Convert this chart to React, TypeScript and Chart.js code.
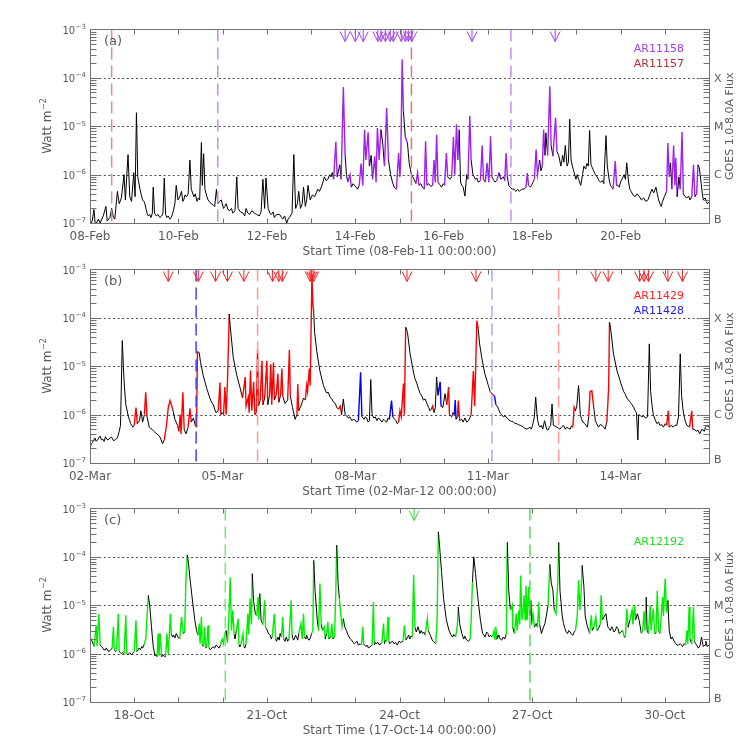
import React, { useEffect, useRef } from 'react';
import { Chart, registerables } from 'chart.js';
Chart.register(...registerables);

// Flux values are in units of 1e-6 W m^-2; third field = active-region flag (0 = none)
const UNIT = 1e-6;

const seriesA: [number, number, number][] = [
[0.00,0.09,0],[0.05,0.11,0],[0.09,0.19,0],[0.12,0.09,0],[0.19,0.12,0],[0.23,0.10,0],[0.30,0.14,0],[0.36,0.22,0],[0.39,0.11,0],[0.45,0.13,0],[0.49,0.2,0],[0.53,0.13,0],[0.56,0.12,0],[0.62,0.45,0],[0.66,0.25,0],[0.71,0.33,0],[0.77,1.0,0],[0.80,0.3,0],[0.86,2.6,0],[0.90,0.35,0],[0.94,0.28,0],[0.99,1.1,0],[1.02,0.35,0],[1.05,19,0],[1.08,0.9,0],[1.13,0.5,0],[1.16,0.38,0],[1.19,0.3,0],[1.22,0.28,0],[1.24,0.25,0],[1.29,0.16,0],[1.32,0.14,0],[1.35,0.15,0],[1.38,0.13,0],[1.41,0.16,0],[1.43,0.55,0],[1.46,0.16,0],[1.50,0.14,0],[1.54,0.15,0],[1.58,0.13,0],[1.62,0.14,0],[1.65,0.16,0],[1.68,0.85,0],[1.71,0.15,0],[1.74,0.13,0],[1.77,0.14,0],[1.81,0.12,0],[1.84,0.13,0],[1.88,0.17,0],[1.92,0.25,0],[1.95,0.6,0],[1.99,0.3,0],[2.03,0.35,0],[2.07,0.45,0],[2.10,0.28,0],[2.12,0.3,0],[2.15,0.38,0],[2.18,0.35,0],[2.22,0.4,0],[2.26,2.0,0],[2.29,0.5,0],[2.35,0.35,0],[2.38,0.4,0],[2.42,0.28,0],[2.45,0.33,0],[2.48,0.3,0],[2.52,4.6,0],[2.54,0.6,0],[2.57,2.7,0],[2.60,0.5,0],[2.64,0.36,0],[2.67,0.3,0],[2.71,0.27,0],[2.74,0.25,0],[2.78,0.24,0],[2.82,0.22,0],[2.86,0.5,0],[2.89,0.25,0],[2.93,0.28,0],[2.97,0.3,0],[3.02,0.2,0],[3.05,0.22,0],[3.08,0.25,0],[3.12,0.19,0],[3.16,0.18,0],[3.20,0.2,0],[3.23,0.16,0],[3.28,0.18,0],[3.32,0.9,0],[3.35,0.2,0],[3.40,0.17,0],[3.46,0.16,0],[3.50,0.14,0],[3.53,0.2,0],[3.57,0.16,0],[3.61,0.15,0],[3.66,0.18,0],[3.72,0.16,0],[3.77,0.15,0],[3.83,0.14,0],[3.87,0.17,0],[3.91,0.8,0],[3.95,0.2,0],[3.98,0.85,0],[4.03,0.2,0],[4.07,0.16,0],[4.10,0.15,0],[4.14,0.17,0],[4.17,0.13,0],[4.22,0.15,0],[4.29,0.15,0],[4.33,0.13,0],[4.36,0.12,0],[4.40,0.14,0],[4.45,0.1,0],[4.48,0.12,0],[4.51,0.13,0],[4.57,0.16,0],[4.61,2.6,0],[4.65,0.2,0],[4.69,0.25,0],[4.72,0.45,0],[4.76,0.2,0],[4.80,0.25,0],[4.83,0.55,0],[4.87,0.22,0],[4.90,0.3,0],[4.93,0.6,0],[4.98,0.3,0],[5.03,0.38,0],[5.08,0.35,0],[5.12,0.42,0],[5.15,0.5,0],[5.19,0.45,0],[5.23,0.55,0],[5.27,0.7,0],[5.30,0.9,0],[5.34,0.75,0],[5.38,0.8,0],[5.42,1.0,0],[5.45,0.9,0],[5.48,1.1,0],[5.51,0.8,0],[5.56,4.8,1],[5.59,0.9,1],[5.65,1.6,0],[5.68,0.8,0],[5.73,65,1],[5.77,2.5,1],[5.80,1.0,0],[5.83,0.7,0],[5.88,1.0,1],[5.91,0.55,1],[5.95,0.65,0],[5.98,0.6,0],[6.02,0.55,0],[6.05,0.5,0],[6.09,0.6,0],[6.13,1.7,1],[6.17,0.6,1],[6.21,8.5,1],[6.24,2.0,1],[6.29,7.5,1],[6.32,1.5,1],[6.36,2.5,0],[6.39,0.8,0],[6.44,2.4,1],[6.47,0.7,1],[6.50,9.2,1],[6.54,2.0,1],[6.58,8.5,1],[6.62,4.5,0],[6.66,1.5,0],[6.71,24,1],[6.75,2.0,1],[6.80,1.0,0],[6.84,0.7,0],[6.88,0.55,0],[6.93,0.5,0],[6.98,2.8,1],[7.01,0.9,1],[7.03,2.4,1],[7.06,240,1],[7.09,20,1],[7.13,6,0],[7.18,4.5,1],[7.22,1.7,0],[7.27,1.0,0],[7.30,0.9,0],[7.33,0.8,0],[7.37,0.65,0],[7.41,1.1,1],[7.44,0.6,1],[7.48,0.65,0],[7.52,0.55,0],[7.56,0.5,0],[7.59,4.9,1],[7.62,0.6,1],[7.66,0.65,0],[7.71,0.57,0],[7.75,0.6,0],[7.78,2.0,1],[7.81,0.7,1],[7.84,6.7,1],[7.87,0.7,1],[7.91,0.62,0],[7.95,0.55,0],[7.99,0.65,0],[8.02,0.6,0],[8.06,2.8,1],[8.09,0.9,1],[8.14,0.8,0],[8.18,0.9,0],[8.22,6,1],[8.25,1.0,1],[8.29,11,1],[8.32,2,1],[8.35,8.5,1],[8.38,0.7,0],[8.41,0.6,0],[8.44,0.55,0],[8.48,0.36,0],[8.52,1.0,0],[8.55,0.8,0],[8.59,16.5,1],[8.62,2,1],[8.66,1.0,0],[8.69,0.9,0],[8.72,0.8,0],[8.75,0.85,0],[8.78,0.7,0],[8.83,0.75,0],[8.87,4.0,1],[8.90,0.8,1],[8.94,0.7,0],[8.98,1.75,1],[9.02,0.7,1],[9.06,6.2,1],[9.09,0.9,1],[9.12,0.8,0],[9.16,0.7,0],[9.20,0.75,0],[9.25,1.1,1],[9.29,0.8,0],[9.35,0.9,0],[9.38,0.75,0],[9.41,2.8,1],[9.44,0.9,1],[9.47,0.6,0],[9.50,0.55,0],[9.55,0.5,0],[9.59,0.5,0],[9.63,0.45,0],[9.67,0.5,0],[9.71,0.45,0],[9.76,0.5,0],[9.82,0.5,0],[9.86,0.55,0],[9.89,1.08,1],[9.92,0.6,1],[9.96,0.55,0],[9.99,0.6,0],[10.02,0.7,0],[10.05,0.8,0],[10.09,3.3,1],[10.12,1.0,1],[10.17,2.0,1],[10.20,1.2,0],[10.23,1.5,0],[10.26,8.5,1],[10.29,2.5,1],[10.31,7.3,0],[10.35,2.5,0],[10.40,67,1],[10.43,4,1],[10.47,2.4,0],[10.53,15,1],[10.56,3,1],[10.60,2.5,0],[10.65,1.5,0],[10.69,2.5,0],[10.72,1.8,0],[10.75,4.0,0],[10.79,1.5,0],[10.82,1.8,0],[10.85,14,0],[10.88,2.0,0],[10.91,1.5,0],[10.94,1.2,0],[10.99,0.8,0],[11.02,1.0,0],[11.05,0.8,0],[11.10,0.6,0],[11.14,1.0,0],[11.17,1.5,0],[11.21,1.3,0],[11.24,1.7,0],[11.27,1.5,0],[11.30,8.2,0],[11.33,1.6,0],[11.36,1.4,0],[11.39,1.2,0],[11.43,1.0,0],[11.47,0.9,0],[11.51,0.75,0],[11.55,0.7,0],[11.59,0.75,0],[11.62,0.65,0],[11.67,6.4,0],[11.70,1.5,0],[11.74,0.8,0],[11.77,0.6,0],[11.80,0.55,0],[11.83,0.5,0],[11.88,1.9,1],[11.91,0.6,1],[11.94,0.6,0],[11.97,0.55,0],[12.00,0.7,0],[12.03,0.8,0],[12.08,1.0,0],[12.11,0.8,0],[12.14,1.75,0],[12.18,0.7,0],[12.21,0.5,0],[12.24,0.45,0],[12.28,0.38,0],[12.33,0.35,0],[12.37,0.4,0],[12.42,0.36,0],[12.47,0.3,0],[12.52,0.33,0],[12.57,0.28,0],[12.62,0.3,0],[12.66,0.38,0],[12.71,0.5,0],[12.75,0.42,0],[12.80,0.55,0],[12.83,0.4,0],[12.86,0.3,0],[12.89,0.25,0],[12.92,0.22,0],[12.95,0.28,0],[12.99,0.35,0],[13.04,0.45,0],[13.07,4.5,1],[13.10,0.9,1],[13.13,1.75,1],[13.16,0.5,0],[13.20,4.0,1],[13.23,0.6,1],[13.25,2.2,1],[13.28,0.35,1],[13.32,0.9,0],[13.35,0.5,0],[13.39,7.6,1],[13.42,0.4,1],[13.46,0.35,0],[13.50,0.33,0],[13.54,0.36,0],[13.57,0.3,0],[13.61,0.35,0],[13.65,1.6,1],[13.68,0.35,1],[13.72,0.4,0],[13.75,1.6,1],[13.78,1.4,0],[13.82,0.7,0],[13.85,0.4,0],[13.87,0.3,0],[13.91,0.33,0],[13.94,0.28,0],[13.96,0.25,0],[14.0,0.27,0]
];

const seriesB: [number, number, number][] = [
[0.00,0.21,0],[0.03,0.25,0],[0.06,0.27,0],[0.09,0.3,0],[0.11,0.33,0],[0.14,0.28,0],[0.17,0.3,0],[0.20,0.33,0],[0.23,0.36,0],[0.26,0.3,0],[0.29,0.31,0],[0.32,0.28,0],[0.35,0.35,0],[0.38,0.31,0],[0.41,0.3,0],[0.45,0.33,0],[0.49,0.34,0],[0.53,0.29,0],[0.57,0.3,0],[0.62,0.33,0],[0.66,0.45,0],[0.69,0.6,0],[0.73,34,0],[0.77,5.0,0],[0.81,1.6,0],[0.87,0.9,0],[0.92,0.65,0],[0.97,0.55,0],[1.00,0.6,0],[1.04,1.4,1],[1.07,0.65,1],[1.12,0.75,0],[1.15,1.2,0],[1.19,0.7,0],[1.23,1.0,0],[1.26,2.9,1],[1.29,0.9,1],[1.34,0.55,0],[1.37,0.52,0],[1.40,0.5,0],[1.45,0.45,0],[1.48,0.42,0],[1.51,0.4,0],[1.54,0.38,0],[1.57,0.36,0],[1.61,0.3,0],[1.64,0.25,0],[1.68,0.3,0],[1.73,0.6,1],[1.77,1.4,1],[1.81,1.95,1],[1.87,1.3,1],[1.92,0.8,0],[1.98,0.6,0],[2.01,0.45,0],[2.04,1.0,1],[2.06,0.4,1],[2.10,2.9,1],[2.13,0.5,1],[2.17,0.4,0],[2.22,0.55,0],[2.26,1.35,1],[2.29,0.7,1],[2.34,0.85,0],[2.38,0.6,0],[2.41,0.55,0],[2.43,20,1],[2.47,19,1],[2.50,12,0],[2.56,6.5,0],[2.64,3.5,0],[2.71,2.2,0],[2.75,1.8,0],[2.79,1.6,0],[2.82,1.3,0],[2.85,1.1,0],[2.90,1.2,0],[2.94,4.6,1],[2.96,1.0,1],[2.99,1.1,0],[3.02,1.0,0],[3.05,3.7,1],[3.08,1.0,1],[3.11,5,1],[3.15,120,1],[3.17,70,0],[3.24,15,0],[3.32,6.5,0],[3.39,3.7,0],[3.45,2.2,0],[3.51,6,1],[3.53,1.5,1],[3.58,2.3,1],[3.60,1.1,1],[3.63,8.2,1],[3.66,1.2,1],[3.70,4.7,1],[3.73,1.0,1],[3.76,1.1,0],[3.79,22,1],[3.81,1.5,1],[3.85,2.0,0],[3.89,13,1],[3.91,1.6,1],[3.95,2.2,0],[4.00,13,1],[4.02,1.6,1],[4.06,2.5,0],[4.09,11,1],[4.11,1.6,1],[4.15,12,1],[4.17,2.0,1],[4.21,2.5,0],[4.25,7,1],[4.27,1.8,1],[4.31,2.5,0],[4.34,9,1],[4.36,2.4,1],[4.41,1.7,0],[4.47,2.0,0],[4.51,22,1],[4.53,2.5,1],[4.58,1.4,0],[4.64,0.8,0],[4.68,1.0,0],[4.70,4.3,1],[4.72,1.2,1],[4.77,1.5,0],[4.83,2.2,0],[4.87,2.0,0],[4.90,4.0,1],[4.92,3.0,1],[4.96,9,1],[4.98,4,1],[5.02,810,1],[5.04,200,1],[5.06,130,1],[5.08,50,0],[5.13,20,0],[5.20,8,0],[5.28,4,0],[5.35,2.8,0],[5.39,2.9,0],[5.43,2.3,0],[5.47,2.1,0],[5.51,1.8,0],[5.55,1.7,0],[5.58,1.4,0],[5.62,1.3,0],[5.66,1.5,1],[5.69,1.0,1],[5.73,2.1,0],[5.77,1.0,0],[5.80,0.95,0],[5.84,0.85,0],[5.88,0.9,0],[5.92,0.75,0],[5.96,0.8,0],[5.99,0.78,0],[6.03,0.7,0],[6.07,0.75,0],[6.12,7.5,2],[6.15,0.9,2],[6.20,0.8,0],[6.23,0.9,0],[6.26,0.85,0],[6.29,0.7,0],[6.32,0.75,0],[6.35,5.3,0],[6.38,1.0,0],[6.42,0.85,0],[6.45,0.9,0],[6.49,0.75,0],[6.52,0.85,0],[6.56,0.8,0],[6.60,0.7,0],[6.64,0.8,0],[6.67,0.75,0],[6.71,0.7,0],[6.74,0.85,0],[6.77,0.8,0],[6.82,1.95,2],[6.85,0.9,2],[6.89,0.8,0],[6.92,0.75,0],[6.95,0.65,0],[6.98,0.7,0],[7.01,1.2,1],[7.04,0.9,1],[7.09,4.4,1],[7.11,1.0,1],[7.14,64,1],[7.18,50,0],[7.24,18,0],[7.31,8,0],[7.35,5.5,0],[7.39,4.5,0],[7.43,3.4,0],[7.47,2.7,0],[7.51,2.4,0],[7.54,2.0,0],[7.58,2.1,0],[7.62,1.7,0],[7.66,1.4,0],[7.69,1.2,0],[7.72,1.3,0],[7.75,1.5,1],[7.78,1.1,1],[7.81,1.4,0],[7.84,6,0],[7.87,2.5,0],[7.92,4.8,2],[7.94,1.5,2],[7.98,1.4,0],[8.03,2.7,0],[8.07,1.6,0],[8.11,3.7,1],[8.13,1.0,1],[8.18,0.9,0],[8.21,1.1,0],[8.24,1.0,0],[8.26,2.0,2],[8.28,0.8,2],[8.31,0.9,0],[8.33,1.95,1],[8.36,0.75,1],[8.41,0.8,0],[8.44,0.7,0],[8.48,0.85,0],[8.52,0.7,0],[8.56,0.75,0],[8.59,0.85,0],[8.62,1.0,0],[8.67,8,1],[8.70,1.5,1],[8.75,88,1],[8.78,60,1],[8.81,30,0],[8.86,15,0],[8.93,7,0],[9.01,4,0],[9.05,3.0,0],[9.09,2.7,0],[9.15,2.4,1],[9.18,1.6,2],[9.21,1.5,0],[9.24,1.3,0],[9.27,1.1,0],[9.31,1.0,0],[9.35,0.9,0],[9.39,0.95,0],[9.43,0.85,0],[9.47,0.78,0],[9.50,0.75,0],[9.54,0.72,0],[9.58,0.7,0],[9.61,0.66,0],[9.65,0.65,0],[9.69,0.62,0],[9.73,0.6,0],[9.77,0.58,0],[9.80,0.55,0],[9.84,0.52,0],[9.88,0.5,0],[9.91,0.52,0],[9.95,0.55,0],[9.98,0.5,0],[10.01,0.6,0],[10.05,0.9,0],[10.08,2.3,0],[10.12,0.8,0],[10.15,0.6,0],[10.18,0.55,0],[10.21,0.6,0],[10.24,0.5,0],[10.28,0.75,0],[10.33,0.5,0],[10.36,0.48,0],[10.39,0.55,0],[10.42,0.6,0],[10.45,1.66,0],[10.48,0.6,0],[10.52,0.58,0],[10.56,0.55,0],[10.60,0.52,0],[10.63,0.5,0],[10.67,0.56,0],[10.71,0.6,0],[10.75,0.5,0],[10.78,0.55,0],[10.82,0.52,0],[10.86,0.5,0],[10.89,0.58,0],[10.92,0.55,0],[10.95,1.42,1],[10.98,1.2,1],[11.01,1.5,0],[11.05,4.0,0],[11.09,1.0,0],[11.12,0.8,0],[11.15,0.7,0],[11.19,0.65,0],[11.22,0.6,0],[11.25,0.55,0],[11.28,0.9,0],[11.31,3.0,1],[11.35,3.1,1],[11.39,1.5,1],[11.43,0.75,0],[11.46,0.65,0],[11.50,0.55,0],[11.54,0.62,0],[11.58,0.6,0],[11.62,0.55,0],[11.65,0.5,0],[11.69,0.7,0],[11.73,3.5,1],[11.75,81,1],[11.78,55,0],[11.84,18,0],[11.92,8,0],[11.99,5,0],[12.03,3.8,0],[12.07,3.0,0],[12.11,2.6,0],[12.14,2.2,0],[12.18,2.0,0],[12.22,1.8,0],[12.26,1.6,0],[12.30,1.4,0],[12.33,1.2,0],[12.36,1.1,0],[12.39,0.3,0],[12.41,1.0,0],[12.45,0.95,0],[12.48,0.9,0],[12.52,0.95,0],[12.56,0.85,0],[12.61,0.9,0],[12.65,29,0],[12.68,3,0],[12.71,1.6,0],[12.74,1.0,0],[12.78,0.8,0],[12.82,0.65,0],[12.86,0.7,0],[12.89,0.6,0],[12.93,0.62,0],[12.97,0.55,0],[13.01,0.65,0],[13.04,0.6,0],[13.08,1.2,1],[13.10,0.55,1],[13.14,0.6,0],[13.19,0.55,0],[13.23,0.6,0],[13.27,0.6,0],[13.31,0.9,0],[13.35,18,0],[13.38,2.5,0],[13.41,1.3,0],[13.44,0.9,0],[13.47,0.7,0],[13.50,0.6,0],[13.53,0.58,0],[13.56,0.55,0],[13.61,1.2,1],[13.63,0.5,1],[13.67,0.5,0],[13.71,0.45,0],[13.75,0.48,0],[13.79,0.4,0],[13.84,0.5,0],[13.89,0.45,0],[13.92,0.55,0],[13.95,0.6,0],[14.0,0.55,0]
];

const seriesC: [number, number, number][] = [
[0.00,2.2,0],[0.05,1.8,0],[0.09,1.4,0],[0.14,3.85,1],[0.16,1.4,1],[0.20,6.7,1],[0.23,1.5,1],[0.26,1.4,0],[0.29,1.3,0],[0.31,1.2,0],[0.34,1.2,0],[0.36,1.3,0],[0.39,1.25,0],[0.42,1.1,0],[0.45,1.15,0],[0.50,1.3,0],[0.53,3.6,1],[0.55,1.2,1],[0.58,1.1,0],[0.60,1.15,0],[0.64,6.7,1],[0.66,1.1,1],[0.69,1.05,0],[0.71,1.0,0],[0.74,1.05,0],[0.77,0.95,0],[0.81,6.2,1],[0.83,1.0,1],[0.86,0.95,0],[0.90,1.05,0],[0.93,0.95,0],[0.96,1.0,0],[1.00,1.1,0],[1.04,4.9,1],[1.06,1.1,1],[1.09,1.2,0],[1.11,1.3,0],[1.14,1.2,0],[1.17,1.4,0],[1.19,1.3,0],[1.22,1.5,0],[1.26,2.0,1],[1.32,16,1],[1.35,10,0],[1.39,3.6,0],[1.43,1.4,0],[1.47,0.9,0],[1.49,0.95,0],[1.52,0.85,0],[1.54,2.6,1],[1.56,0.9,1],[1.59,2.6,1],[1.62,0.85,1],[1.64,0.95,0],[1.67,0.9,0],[1.71,0.85,0],[1.74,2.6,1],[1.77,1.0,1],[1.82,6.7,1],[1.84,2.5,1],[1.87,2.2,0],[1.89,2.4,0],[1.92,2.1,0],[1.95,2.6,0],[1.99,2.2,0],[2.03,2.0,0],[2.07,5.7,1],[2.11,2.6,1],[2.14,2.8,0],[2.17,33,1],[2.20,110,1],[2.23,70,0],[2.27,30,0],[2.33,10,0],[2.37,5,0],[2.41,3.0,0],[2.44,2.4,0],[2.47,4.2,1],[2.49,1.6,1],[2.52,5.7,1],[2.54,1.5,1],[2.57,1.4,0],[2.59,3.6,1],[2.62,1.3,1],[2.64,1.4,0],[2.67,3.85,1],[2.69,1.3,1],[2.72,1.2,0],[2.74,1.25,0],[2.78,1.4,0],[2.82,1.3,0],[2.85,1.5,0],[2.89,1.4,0],[2.92,1.3,0],[2.95,1.5,0],[2.99,2.0,1],[3.02,1.6,1],[3.05,2.6,1],[3.08,3.0,1],[3.11,1.7,0],[3.14,5.3,1],[3.17,38,1],[3.20,3,1],[3.23,7.9,1],[3.26,2.5,1],[3.28,2.0,0],[3.31,3.0,0],[3.35,5.3,1],[3.37,1.5,1],[3.39,1.4,0],[3.41,1.5,0],[3.46,2.6,1],[3.48,1.4,1],[3.50,1.3,0],[3.53,1.6,0],[3.57,6.7,1],[3.59,2.5,1],[3.62,13.7,1],[3.65,4,1],[3.67,45,1],[3.70,12,0],[3.74,6.7,0],[3.77,6,0],[3.80,14.8,1],[3.82,5,1],[3.84,17.4,1],[3.87,4.9,0],[3.91,4,0],[3.95,12.6,1],[3.97,3.5,1],[4.00,3.2,0],[4.02,2.8,0],[4.05,2.5,0],[4.08,2.4,0],[4.10,2.0,0],[4.12,2.2,0],[4.17,6.7,1],[4.20,2.0,1],[4.22,1.8,0],[4.25,2.2,0],[4.28,1.9,0],[4.30,2.6,0],[4.33,2.2,0],[4.36,5.7,1],[4.38,2.0,1],[4.41,1.8,0],[4.44,2.2,0],[4.47,1.8,0],[4.50,2.0,0],[4.55,12.6,1],[4.57,2.5,1],[4.60,1.9,0],[4.62,2.0,0],[4.65,2.4,0],[4.67,2.2,0],[4.70,1.9,0],[4.72,2.6,0],[4.77,4.2,1],[4.80,2.0,1],[4.83,6.7,1],[4.85,2.2,1],[4.88,2.0,0],[4.90,2.4,0],[4.93,2.0,0],[4.96,1.9,0],[4.99,2.2,0],[5.01,2.6,0],[5.04,3,1],[5.06,85,1],[5.09,20,0],[5.14,5,0],[5.17,3.0,0],[5.20,28,1],[5.23,4,1],[5.26,3.0,0],[5.30,3.6,1],[5.32,2.0,1],[5.35,2.6,0],[5.38,4.5,1],[5.40,2.0,1],[5.44,2.2,0],[5.47,4.2,1],[5.49,2.0,1],[5.53,2.2,0],[5.56,20,1],[5.58,175,1],[5.61,30,0],[5.64,13.7,0],[5.68,5.5,1],[5.70,3.6,1],[5.73,5.3,1],[5.76,3.6,0],[5.80,3.0,0],[5.83,2.5,0],[5.86,2.2,0],[5.89,2.0,0],[5.92,1.9,0],[5.95,1.7,0],[5.98,1.6,0],[6.01,1.7,0],[6.04,1.8,0],[6.07,1.5,0],[6.11,1.6,0],[6.14,1.5,0],[6.17,3.6,1],[6.19,1.6,1],[6.21,1.5,0],[6.24,1.4,0],[6.27,1.5,0],[6.30,1.3,0],[6.33,1.4,0],[6.35,1.4,0],[6.38,1.5,0],[6.41,11.7,1],[6.43,1.5,1],[6.45,1.7,0],[6.47,1.6,0],[6.51,1.7,0],[6.55,1.5,0],[6.60,1.7,0],[6.64,4.2,1],[6.66,1.6,1],[6.68,1.9,0],[6.71,1.8,0],[6.74,5.7,1],[6.76,1.8,1],[6.78,1.6,0],[6.80,1.7,0],[6.84,1.8,0],[6.88,1.6,0],[6.91,1.7,0],[6.95,1.5,0],[6.99,1.8,0],[7.03,1.7,0],[7.08,1.8,0],[7.11,3.85,1],[7.14,1.9,1],[7.16,2.0,0],[7.18,2.2,0],[7.21,2.4,0],[7.23,2.0,0],[7.26,2.3,0],[7.29,2.2,0],[7.32,42,1],[7.35,3.5,1],[7.38,2.8,0],[7.42,3.6,0],[7.46,2.6,0],[7.49,3.0,0],[7.52,2.6,0],[7.55,2.8,0],[7.58,2.4,0],[7.63,5.3,1],[7.65,3.0,1],[7.68,2.6,0],[7.70,2.4,0],[7.73,2.0,0],[7.76,1.8,0],[7.79,1.7,0],[7.82,1.6,0],[7.85,5,1],[7.88,330,1],[7.91,150,0],[7.95,50,0],[8.00,13,0],[8.06,5,0],[8.12,3.0,0],[8.16,2.5,0],[8.20,2.2,0],[8.23,2.5,0],[8.27,2.2,0],[8.31,4,1],[8.33,9.2,1],[8.36,4.2,0],[8.41,2.6,0],[8.45,2.0,0],[8.48,2.3,0],[8.50,2.0,0],[8.53,1.9,0],[8.56,1.8,0],[8.60,2.0,0],[8.62,4.9,1],[8.65,30,1],[8.68,100,0],[8.72,45,0],[8.77,15,0],[8.83,4.9,0],[8.88,2.6,0],[8.91,2.4,0],[8.94,2.2,0],[8.97,2.8,0],[9.00,2.6,0],[9.03,2.2,0],[9.06,2.4,0],[9.10,2.2,0],[9.14,3.0,1],[9.16,2.0,1],[9.18,3.6,1],[9.20,2.0,1],[9.23,2.4,0],[9.25,2.2,0],[9.28,2.0,0],[9.31,1.9,0],[9.35,2.2,0],[9.38,2.0,0],[9.41,2.5,0],[9.42,20,1],[9.44,200,1],[9.47,20,0],[9.51,8,0],[9.55,10,1],[9.56,3.5,1],[9.60,2.6,0],[9.64,6.7,1],[9.66,3,1],[9.70,7.9,1],[9.72,4,1],[9.74,41,1],[9.77,5,1],[9.80,8,1],[9.82,16,1],[9.84,5,1],[9.86,25,1],[9.89,5,1],[9.92,24,1],[9.95,6,1],[9.97,12.6,1],[9.99,4,0],[10.02,6.7,1],[10.05,3.5,1],[10.09,4.2,0],[10.12,3.5,0],[10.15,11.7,1],[10.17,4,1],[10.21,2.6,0],[10.26,3.6,0],[10.29,4.2,0],[10.32,6,0],[10.36,10,0],[10.40,70,1],[10.43,30,0],[10.47,20,0],[10.50,8,0],[10.54,6.7,1],[10.58,30,1],[10.60,200,1],[10.63,20,0],[10.68,6,0],[10.71,4.2,0],[10.74,3.3,0],[10.77,2.8,0],[10.80,2.6,0],[10.83,3.0,0],[10.86,2.8,0],[10.89,2.5,0],[10.92,2.4,0],[10.95,2.8,0],[10.98,3.0,0],[11.02,6,1],[11.05,33,1],[11.08,8,1],[11.11,20,1],[11.13,67,1],[11.17,25,0],[11.20,6,0],[11.25,3.6,0],[11.28,3.0,0],[11.30,2.6,0],[11.34,6.2,1],[11.36,3.0,1],[11.40,3.6,0],[11.44,5.7,1],[11.47,3.0,1],[11.50,3.3,0],[11.54,4,0],[11.56,16,1],[11.59,5,1],[11.62,5.7,0],[11.67,6.7,0],[11.71,3.6,0],[11.74,3.3,0],[11.77,3.0,0],[11.80,3.6,0],[11.82,3.3,0],[11.85,2.8,0],[11.88,3.0,0],[11.91,3.6,0],[11.94,3.3,0],[11.97,2.6,0],[12.00,2.8,0],[12.05,3.0,0],[12.08,2.2,1],[12.11,2.2,0],[12.14,8.5,1],[12.17,3.5,1],[12.21,4.9,0],[12.26,7.9,1],[12.28,4,1],[12.32,10,1],[12.34,5,1],[12.38,6.7,0],[12.42,4.9,0],[12.47,2.6,0],[12.50,3,1],[12.53,7.4,1],[12.55,3,1],[12.58,14.8,1],[12.60,3,0],[12.63,2.6,0],[12.67,10,1],[12.69,3,1],[12.74,8.5,1],[12.77,2.6,1],[12.80,2.6,0],[12.83,20,1],[12.86,3,1],[12.89,2.6,0],[12.95,14.8,1],[12.97,6,1],[13.01,35.5,1],[13.04,7,1],[13.07,12.6,1],[13.10,3,0],[13.14,2.0,0],[13.17,2.2,0],[13.20,1.9,0],[13.23,1.7,0],[13.25,1.6,0],[13.28,1.5,0],[13.31,1.5,0],[13.35,1.6,0],[13.38,1.5,0],[13.40,1.4,0],[13.44,1.6,0],[13.47,1.5,0],[13.50,3.0,1],[13.52,1.6,1],[13.55,9.2,1],[13.57,2,1],[13.61,1.6,0],[13.65,9.2,1],[13.67,1.8,1],[13.70,1.6,0],[13.72,1.5,0],[13.76,1.3,0],[13.80,1.5,0],[13.83,2.2,0],[13.87,1.4,0],[13.91,1.5,0],[13.93,1.8,0],[13.96,1.4,0],[14.0,1.5,0]
];

// flare arrows (days from start)
const arrowsA = [5.77, 6.0, 6.18, 6.51, 6.58, 6.68, 6.79, 6.86, 7.04, 7.13, 7.20, 7.28, 8.64, 10.52];
const arrowsB = [1.77, 2.45, 2.84, 3.11, 3.48, 4.13, 4.27, 4.35, 4.98, 5.02, 5.06, 7.17, 8.73, 11.44, 11.72, 12.43, 12.53, 12.63, 13.07, 13.4];
const arrowsC = [7.33];

// vertical dashed markers (days from start)
const dashA = [0.49, 2.89, 7.27, 9.52];
const dashB = [2.40, 3.79, 9.09, 10.6];
const dashC = [3.06, 9.95];

const tickDaysA = [0, 2, 4, 6, 8, 10, 12];
const tickLabelsA = ['08-Feb', '10-Feb', '12-Feb', '14-Feb', '16-Feb', '18-Feb', '20-Feb'];
const tickDaysB = [0, 3, 6, 9, 12];
const tickLabelsB = ['02-Mar', '05-Mar', '08-Mar', '11-Mar', '14-Mar'];
const tickDaysC = [1, 4, 7, 10, 13];
const tickLabelsC = ['18-Oct', '21-Oct', '24-Oct', '27-Oct', '30-Oct'];

const yExps = [-7, -6, -5, -4, -3];
const goesClasses = ['B', 'C', 'M', 'X'];
const gridDecades = [1e-6, 1e-5, 1e-4];

const FONT = '"DejaVu Sans", sans-serif';
const TEXT = '#5a5a5a';
const FRAME = '#707070';

type Panel = {
  label: string;
  series: [number, number, number][];
  colors: string[];
  arrows: number[];
  arrowColor: string;
  dash: number[];
  dashColors: string[];
  tickDays: number[];
  tickLabels: string[];
  title: string;
  legend: string[];
  legendColors: string[];
  legendTop: number;
  top: number;
};

const PANELS: Panel[] = [
  {
    label: '(a)', series: seriesA, colors: ['#000000', '#a020f0'],
    arrows: arrowsA, arrowColor: '#a040f0',
    dash: dashA, dashColors: ['#e08a8a', '#c88af5', '#d87878', '#c88af5'],
    tickDays: tickDaysA, tickLabels: tickLabelsA,
    title: 'Start Time (08-Feb-11 00:00:00)',
    legend: ['AR11158', 'AR11157'], legendColors: ['#a040f0', '#b83030'], legendTop: 19.5,
    top: 0,
  },
  {
    label: '(b)', series: seriesB, colors: ['#000000', '#ff0000', '#0000ff'],
    arrows: arrowsB, arrowColor: '#ff2020',
    dash: dashB, dashColors: ['#4040ff', '#ff9a9a', '#a8a8ff', '#ff9a9a'],
    tickDays: tickDaysB, tickLabels: tickLabelsB,
    title: 'Start Time (02-Mar-12 00:00:00)',
    legend: ['AR11429', 'AR11428'], legendColors: ['#ff2020', '#2020ff'], legendTop: 26.5,
    top: 240,
  },
  {
    label: '(c)', series: seriesC, colors: ['#000000', '#00ee00'],
    arrows: arrowsC, arrowColor: '#30e030',
    dash: dashC, dashColors: ['#70ee70', '#50e050'],
    tickDays: tickDaysC, tickLabels: tickLabelsC,
    title: 'Start Time (17-Oct-14 00:00:00)',
    legend: ['AR12192'], legendColors: ['#20e020'], legendTop: 33.5,
    top: 479,
  },
];

const W = 747;
const H = 262;

function makeDecor(p: Panel) {
  return {
    id: 'decor',
    beforeDatasetsDraw(chart: any) {
      const { ctx, chartArea: a } = chart;
      const ys = chart.scales.y;
      ctx.save();
      ctx.strokeStyle = '#4a4a4a';
      ctx.lineWidth = 1;
      ctx.setLineDash([2, 2.6]);
      for (const v of gridDecades) {
        const py = Math.round(ys.getPixelForValue(v)) + 0.5;
        ctx.beginPath();
        ctx.moveTo(a.left, py);
        ctx.lineTo(a.right, py);
        ctx.stroke();
      }
      ctx.restore();
    },
    afterDatasetsDraw(chart: any) {
      const { ctx, chartArea: a } = chart;
      const xs = chart.scales.x;
      const ys = chart.scales.y;
      ctx.save();
      // dashed markers
      ctx.lineWidth = 1.5;
      ctx.setLineDash([12, 6]);
      p.dash.forEach((d, i) => {
        const px = xs.getPixelForValue(d);
        ctx.strokeStyle = p.dashColors[i];
        ctx.beginPath();
        ctx.moveTo(px, a.top);
        ctx.lineTo(px, a.bottom);
        ctx.stroke();
      });
      ctx.setLineDash([]);
      // arrows
      ctx.strokeStyle = p.arrowColor;
      ctx.lineWidth = 1;
      for (const d of p.arrows) {
        const px = xs.getPixelForValue(d);
        ctx.beginPath();
        ctx.moveTo(px, a.top);
        ctx.lineTo(px, a.top + 12);
        ctx.moveTo(px - 5, a.top + 2);
        ctx.lineTo(px, a.top + 12);
        ctx.lineTo(px + 5, a.top + 2);
        ctx.stroke();
      }
      // frame
      const L = Math.round(a.left) + 0.5;
      const R = Math.round(a.right) + 0.5;
      const T = Math.floor(a.top) + 0.5;
      const B = Math.round(a.bottom) + 0.5;
      ctx.strokeStyle = FRAME;
      ctx.lineWidth = 1;
      ctx.strokeRect(L, T, R - L, B - T);
      ctx.beginPath();
      for (let d = 1; d < 14; d++) {
        const px = Math.round(xs.getPixelForValue(d)) + 0.5;
        ctx.moveTo(px, B); ctx.lineTo(px, B - 5);
        ctx.moveTo(px, T); ctx.lineTo(px, T + 5);
      }
      for (let e = -7; e <= -4; e++) {
        for (let m = 1; m <= 9; m++) {
          const v = m * Math.pow(10, e);
          const py = Math.round(ys.getPixelForValue(v)) + 0.5;
          const len = m === 1 ? 10 : 6;
          ctx.moveTo(L, py); ctx.lineTo(L + len, py);
          ctx.moveTo(R, py); ctx.lineTo(R - len, py);
        }
      }
      ctx.stroke();

      ctx.fillStyle = TEXT;
      for (const e of yExps) {
        const py = ys.getPixelForValue(Math.pow(10, e));
        const sup = '\u2212' + String(-e);
        ctx.font = `7px ${FONT}`;
        const sw = ctx.measureText(sup).width;
        ctx.textAlign = 'left';
        ctx.textBaseline = 'middle';
        const xr = a.left - 4;
        ctx.fillText(sup, xr - sw, py - 2.5);
        ctx.font = `10px ${FONT}`;
        ctx.textAlign = 'right';
        ctx.fillText('10', xr - sw - 0.5, py + 1.5);
      }
      ctx.font = `11px ${FONT}`;
      ctx.textAlign = 'left';
      ctx.textBaseline = 'middle';
      goesClasses.forEach((c, i) => {
        const py = ys.getPixelForValue(Math.pow(10, -7 + i));
        ctx.fillText(c, a.right + 5, i === 0 ? py - 3 : py + 1);
      });
      ctx.font = `12px ${FONT}`;
      ctx.textAlign = 'center';
      p.tickDays.forEach((d, i) => {
        ctx.fillText(p.tickLabels[i], xs.getPixelForValue(d), a.bottom + 14);
      });
      ctx.fillText(p.title, (a.left + a.right) / 2, a.bottom + 28.5);
      const midY = (a.top + a.bottom) / 2;
      ctx.save();
      ctx.translate(48, midY);
      ctx.rotate(-Math.PI / 2);
      ctx.font = `12px ${FONT}`;
      const w1 = ctx.measureText('Watt m').width;
      ctx.font = `8px ${FONT}`;
      const w2 = ctx.measureText('\u22122').width;
      const s = -(w1 + w2) / 2;
      ctx.textAlign = 'left';
      ctx.font = `12px ${FONT}`;
      ctx.fillText('Watt m', s, 0);
      ctx.font = `8px ${FONT}`;
      ctx.fillText('\u22122', s + w1 + 0.5, -4.5);
      ctx.restore();
      ctx.save();
      ctx.translate(730, midY);
      ctx.rotate(-Math.PI / 2);
      ctx.font = `11px ${FONT}`;
      ctx.textAlign = 'center';
      ctx.fillText('GOES 1.0-8.0A Flux', 0, 0);
      ctx.restore();
      ctx.font = `13px ${FONT}`;
      ctx.textAlign = 'left';
      ctx.fillText(p.label, a.left + 14, a.top + 12.5);
      ctx.font = `11px ${FONT}`;
      ctx.textAlign = 'right';
      p.legend.forEach((t, i) => {
        ctx.fillStyle = p.legendColors[i];
        ctx.fillText(t, a.right - 25, a.top + p.legendTop + i * 15);
      });
      ctx.restore();
    },
  };
}

function PanelChart({ p }: { p: Panel }) {
  const ref = useRef<HTMLCanvasElement>(null);
  useEffect(() => {
    const series = p.series;
    const chart = new Chart(ref.current as HTMLCanvasElement, {
      type: 'line',
      data: {
        datasets: [
          {
            data: series.map(([d, f]) => ({ x: d, y: f * UNIT })),
            borderColor: '#000000',
            borderWidth: 1,
            pointRadius: 0,
            tension: 0,
            segment: {
              borderColor: (c: any) => p.colors[series[c.p1DataIndex][2]],
              borderWidth: (c: any) => (series[c.p1DataIndex][2] ? 1.4 : 1),
            },
          } as any,
        ],
      },
      options: {
        animation: false,
        responsive: false,
        devicePixelRatio: 1,
        events: [],
        layout: { padding: { left: 90, right: 38, top: 29.5, bottom: 39 } },
        scales: {
          x: { type: 'linear', min: 0, max: 14, display: false },
          y: { type: 'logarithmic', min: 1e-7, max: 1e-3, display: false },
        },
        plugins: { legend: { display: false }, tooltip: { enabled: false } },
      },
      plugins: [makeDecor(p)],
    });
    return () => chart.destroy();
  }, [p]);
  return (
    <canvas
      ref={ref}
      width={W}
      height={H}
      style={{ position: 'absolute', left: 0, top: p.top, width: W, height: H }}
    />
  );
}

export default function App() {
  return (
    <div style={{ position: 'absolute', left: 0, top: 0, width: 747, height: 747, background: '#ffffff' }}>
      {PANELS.map((p) => (
        <PanelChart key={p.label} p={p} />
      ))}
    </div>
  );
}
